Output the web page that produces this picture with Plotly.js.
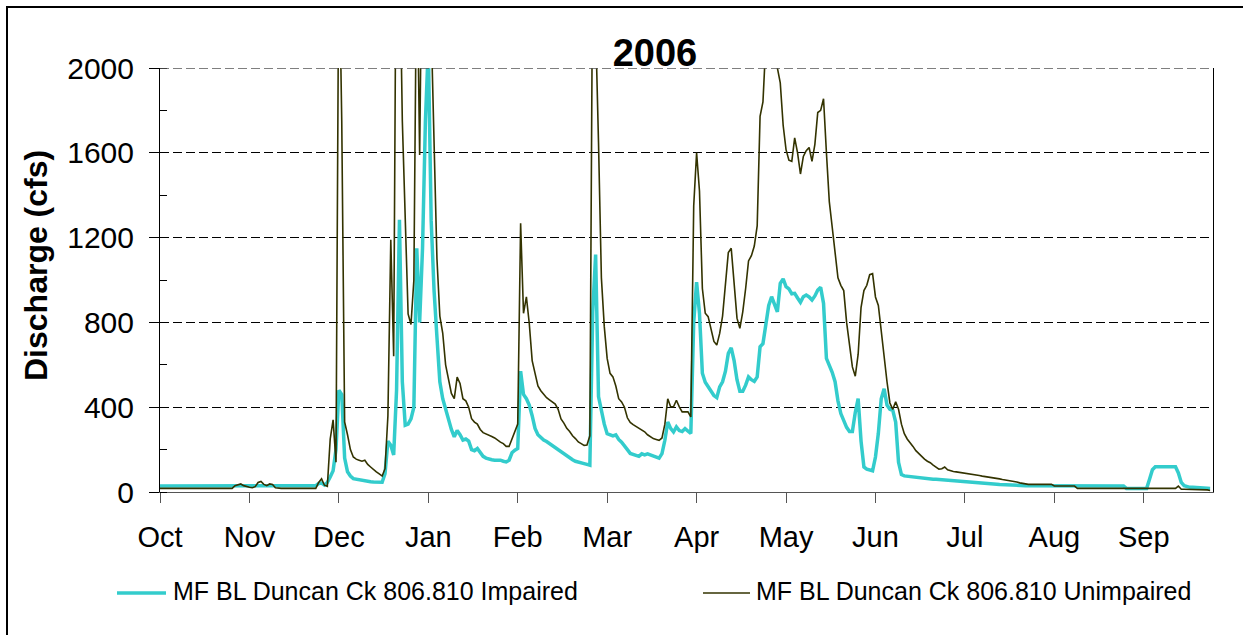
<!DOCTYPE html>
<html><head><meta charset="utf-8">
<script src="https://cdn.plot.ly/plotly-3.0.1.min.js"></script>
<style>
html,body{margin:0;padding:0;overflow:hidden;background:#fff}
#chart{position:absolute;left:0;top:0;width:1243px;height:635px}
#frame{position:absolute;left:6px;top:6px;width:1400px;height:900px;border-left:2px solid #000;border-top:2px solid #000;pointer-events:none}
</style></head><body>
<div id="chart"></div><div id="frame"></div>
<script>
const chartTitle = '2006';
const yTitle = 'Discharge (cfs)';
const monthLabels = ['Oct','Nov','Dec','Jan','Feb','Mar','Apr','May','Jun','Jul','Aug','Sep'];
const seriesNames = ['MF BL Duncan Ck 806.810 Impaired','MF BL Duncan Ck 806.810 Unimpaired'];

// daily discharge (cfs), water year starting 2005-10-01
const impaired = [
28,28,28,28,28,28,28,28,28,28,
28,28,28,28,28,28,28,28,28,28,
28,28,28,28,28,28,28,28,28,28,
28,28,28,28,28,28,28,28,28,28,
28,28,28,28,28,28,28,28,28,28,
28,28,28,28,30,40,42,33,45,71,
100,200,480,460,160,95,75,63,60,57,
55,52,50,48,47,46,46,46,87,240,
220,175,480,1284,520,315,320,345,400,1150,
800,1150,1750,2100,1280,950,730,520,440,390,
350,295,260,290,270,245,250,240,200,195,
205,185,168,160,155,152,150,152,150,145,
142,150,185,197,205,570,460,440,410,360,
300,270,255,245,238,228,220,208,198,190,
178,168,160,152,145,140,138,134,130,126,
850,1120,450,380,320,275,272,265,270,248,
235,220,200,182,176,172,168,180,175,180,
175,170,165,160,181,244,330,300,283,307,
290,285,299,285,276,800,990,843,560,518,
496,470,455,445,496,520,570,654,680,620,
530,475,475,504,543,530,522,543,685,700,
800,880,921,880,850,984,1005,969,958,935,
937,915,895,921,929,920,906,925,953,965,
890,630,600,565,520,430,370,340,305,285,
285,375,441,240,118,108,105,100,165,277,
440,487,410,390,385,330,140,82,76,74,
72,71,69,67,65,63,62,61,60,60,
59,59,58,56,55,54,53,52,50,49,
48,46,45,44,43,43,42,41,40,39,
37,35,34,33,32,31,30,30,30,30,
30,30,30,29,29,29,29,29,28,28,
28,28,28,28,28,28,28,28,28,28,
28,28,28,28,28,28,28,28,28,28,
28,28,28,28,28,17,17,17,17,17,
17,17,17,60,105,119,119,119,119,119,
119,119,119,90,45,30,25,22,22,22,
20,20,20,18,17
];
const unimpaired = [
17,17,17,17,17,17,17,17,17,17,
17,17,17,17,17,17,17,17,17,17,
17,17,17,17,17,17,30,33,38,30,
25,22,20,25,45,50,36,30,38,35,
20,17,17,17,17,17,17,17,17,17,
17,17,17,17,17,45,62,32,27,250,
340,140,2600,1750,330,270,200,165,155,150,
145,150,130,118,105,95,85,75,110,360,
1190,640,3000,2600,1750,1300,840,790,1000,2600,
1590,2800,3500,3200,2200,1680,1100,830,750,600,
530,465,440,542,512,440,430,400,346,330,
320,295,280,275,268,262,255,244,235,228,
215,215,250,280,320,1268,843,920,795,620,
560,500,478,460,445,435,425,415,390,345,
325,300,285,265,252,236,228,220,222,265,
2600,2200,1650,1010,780,630,560,543,500,440,
425,400,350,328,318,310,298,291,284,270,
260,252,248,244,255,320,440,402,402,433,
402,378,378,378,354,1350,1600,1420,960,843,
827,770,710,693,748,830,1000,1130,1150,1000,
820,772,850,960,1090,1115,1160,1255,1772,1840,
2200,2400,2400,2200,2000,1930,1730,1615,1565,1560,
1670,1600,1500,1583,1610,1625,1560,1640,1790,1800,
1855,1600,1370,1250,1126,1010,975,950,800,700,
590,546,650,870,950,975,1025,1030,920,880,
750,640,520,420,390,425,390,320,275,250,
235,215,195,180,168,155,145,138,127,118,
108,110,118,105,100,97,95,93,91,90,
88,87,84,80,78,75,73,72,71,69,
67,62,59,57,55,53,50,47,43,40,
37,36,36,36,36,36,36,36,36,36,
28,28,28,28,28,28,28,28,17,17,
17,17,17,17,17,17,17,17,17,17,
17,17,17,17,17,17,17,17,17,17,
17,17,17,17,17,17,17,17,17,17,
17,17,17,28,13,13,13,13,13,13,
13,13,13,10,7
];

function dayToDate(i){
  const d = new Date(Date.UTC(2005, 9, 1));
  d.setUTCDate(d.getUTCDate() + i);
  return d.toISOString().slice(0, 10);
}
const dates = impaired.map((_, i) => dayToDate(i));
const tickvals = monthLabels.map((_, i) => dayToDate(i * 31));

const FONT = 'Liberation Sans, Arial, sans-serif';
const cyan = '#33CCCC', olive = '#333300';

// plot-area pixel geometry
const L = 160, R = 1213, T = 68, B = 492;
const px2x = p => (p - L) / (R - L);
const py2y = p => (B - p) / (B - T);

const traces = [
  {x: dates, y: impaired, type: 'scatter', mode: 'lines', name: seriesNames[0],
   line: {color: cyan, width: 3.5}, showlegend: false},
  {x: dates, y: unimpaired, type: 'scatter', mode: 'lines', name: seriesNames[1],
   line: {color: olive, width: 1.6}, showlegend: false}
];

const layout = {
  width: 1243, height: 635,
  margin: {l: L, r: 1243 - R, t: T, b: 635 - B},
  paper_bgcolor: '#fff', plot_bgcolor: '#fff',
  font: {family: FONT, color: '#000'},
  title: {text: '<b>' + chartTitle + '</b>', font: {family: FONT, size: 38, color: '#000'},
          xref: 'container', x: 655 / 1243, xanchor: 'center',
          yref: 'container', y: 1 - 53 / 635, yanchor: 'middle'},
  xaxis: {
    type: 'date', range: [dayToDate(0), dayToDate(365)],
    tickmode: 'array', tickvals: tickvals, ticktext: monthLabels,
    ticks: 'outside', ticklen: 10, tickcolor: '#555', tickwidth: 1,
    showline: true, linecolor: '#555', linewidth: 1,
    showgrid: false, zeroline: false,
    tickfont: {family: FONT, size: 29, color: '#000'},
    ticklabelstandoff: 9, fixedrange: true
  },
  yaxis: {
    range: [0, 2000], tickmode: 'linear', tick0: 0, dtick: 400,
    ticks: 'outside', ticklen: 10, tickcolor: '#000',
    showline: true, linecolor: '#000', linewidth: 1, mirror: true,
    showgrid: true, gridcolor: '#000', gridwidth: 1, griddash: '9px,4px',
    zeroline: false,
    minor: {dtick: 200, ticks: 'inside', ticklen: 7, tickcolor: '#000', showgrid: false},
    tickfont: {family: FONT, size: 30, color: '#000'},
    ticklabelstandoff: 9,
    fixedrange: true
  },
  shapes: [
    {type: 'line', xref: 'paper', yref: 'y', x0: 0, x1: 1, y0: 2000, y1: 2000, layer: 'above',
     line: {color: '#555555', width: 1.5, dash: '9px,4px'}},
    {type: 'line', xref: 'paper', yref: 'paper', x0: px2x(117), x1: px2x(166), y0: py2y(593), y1: py2y(593),
     line: {color: cyan, width: 3.5}},
    {type: 'line', xref: 'paper', yref: 'paper', x0: px2x(703), x1: px2x(750), y0: py2y(593), y1: py2y(593),
     line: {color: olive, width: 1.6}}
  ],
  annotations: [
    {xref: 'paper', yref: 'paper', x: px2x(36), y: py2y(266), xanchor: 'center', yanchor: 'middle',
     textangle: -90, text: '<b>' + yTitle + '</b>', showarrow: false,
     font: {family: FONT, size: 32, color: '#000'}},
    {xref: 'paper', yref: 'paper', x: px2x(171), y: py2y(591), xanchor: 'left', yanchor: 'middle',
     text: seriesNames[0], showarrow: false, font: {family: FONT, size: 25, color: '#000'}},
    {xref: 'paper', yref: 'paper', x: px2x(754), y: py2y(591), xanchor: 'left', yanchor: 'middle',
     text: seriesNames[1], showarrow: false, font: {family: FONT, size: 25, color: '#000'}}
  ]
};

Plotly.newPlot('chart', traces, layout, {displayModeBar: false, staticPlot: true});
</script>
</body></html>
